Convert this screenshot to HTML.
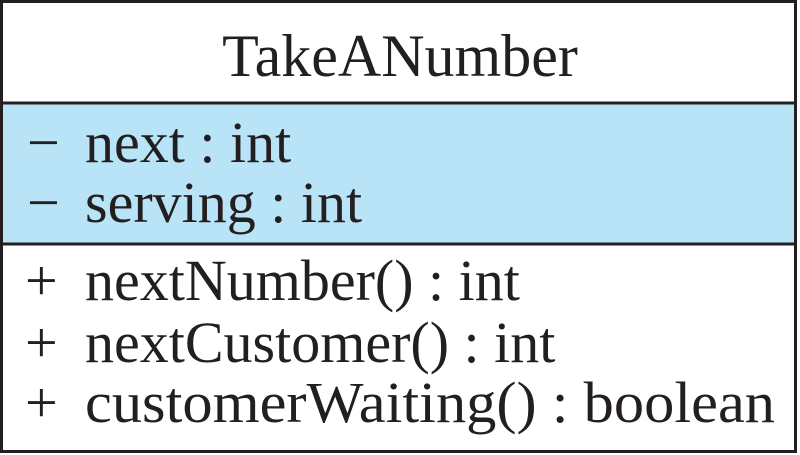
<!DOCTYPE html>
<html><head><style>html,body{margin:0;padding:0;background:#fff}svg{display:block}</style></head>
<body>
<svg width="800" height="455" xmlns="http://www.w3.org/2000/svg" font-family="Liberation Serif, serif" fill="#231f20">
<rect x="0" y="0" width="800" height="455" fill="#fff"/>
<rect x="1.5" y="103" width="794" height="141" fill="#b9e4f7"/>
<rect x="1.5" y="1.5" width="794" height="450" fill="none" stroke="#231f20" stroke-width="3"/>
<line x1="0" y1="103" x2="797" y2="103" stroke="#231f20" stroke-width="3"/>
<line x1="0" y1="244" x2="797" y2="244" stroke="#231f20" stroke-width="3"/>
<text x="400" y="76" font-size="60" text-anchor="middle">TakeANumber</text>
<g font-size="58">
<text x="27" y="162">−</text><text x="85" y="162">next : int</text>
<text x="27" y="222">−</text><text x="85" y="222">serving : int</text>
<text x="25" y="300">+</text><text x="85" y="300">nextNumber() : int</text>
<text x="25" y="362">+</text><text x="85" y="362">nextCustomer() : int</text>
<text x="25" y="422">+</text><text x="85" y="422" textLength="690" lengthAdjust="spacingAndGlyphs">customerWaiting() : boolean</text>
</g>
</svg>
</body></html>
